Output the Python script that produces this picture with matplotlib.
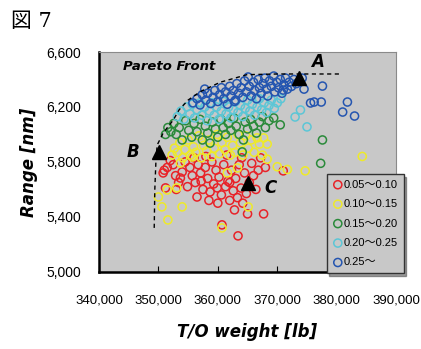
"""Pareto front scatter: T/O weight vs range, coloured by class."""
import matplotlib
matplotlib.use("Agg")
import matplotlib.pyplot as plt
import numpy as np
from matplotlib.ticker import StrMethodFormatter

# T/O weight in thousands of lb, range in nm
red_x = [350.8, 351.0, 351.2, 351.5, 352.5, 352.9, 353.4, 353.7, 354.0, 354.5, 354.9, 355.3,
         355.7, 356.2, 356.5, 356.7, 357.1, 357.5, 357.9, 358.3, 358.7, 359.0, 359.3, 359.7,
         359.9, 360.2, 360.6, 361.0, 361.3, 361.7, 362.0, 362.3, 362.6, 362.8, 363.0, 363.3,
         363.6, 363.9, 364.2, 364.5, 364.8, 365.0, 365.3, 365.7, 366.0, 366.4, 366.8, 367.2,
         367.7, 368.0, 360.7, 363.4, 371.0, 358.0, 356.0, 353.0, 352.0, 364.0, 361.5, 360.0,
         362.0, 358.5, 357.2]
red_y = [5720, 5740, 5611, 5760, 5780, 5700, 5650, 5683, 5727, 5800, 5620, 5760,
         5700, 5650, 5545, 5780, 5720, 5600, 5760, 5680, 5582, 5800, 5640, 5740,
         5611, 5690, 5560, 5780, 5620, 5660, 5520, 5740, 5590, 5451, 5680, 5540,
         5780, 5610, 5500, 5720, 5570, 5422, 5650, 5790, 5700, 5600, 5740, 5830,
         5422, 5760, 5342, 5262, 5735, 5840, 5830, 5600, 5810, 5830, 5850, 5500,
         5650, 5520, 5660]

yellow_x = [352.3, 352.7, 353.2, 353.6, 354.1, 354.5, 355.0, 355.4, 355.9, 356.3, 356.8, 357.2,
            357.6, 358.1, 358.5, 359.0, 359.4, 359.9, 360.3, 360.7, 361.2, 361.6, 362.1, 362.5,
            362.9, 363.4, 363.8, 364.2, 364.7, 365.1, 365.6, 366.1, 366.6, 367.0, 367.7, 368.3,
            350.0, 350.6, 351.5, 351.6, 353.1, 354.0, 360.7, 365.1, 361.6, 363.3, 353.7, 355.7,
            370.0, 371.7, 374.7, 384.3, 368.3, 367.5]
yellow_y = [5850, 5900, 5870, 5940, 5830, 5890, 5960, 5850, 5910, 5870, 5990, 5830,
            5920, 5880, 5960, 5840, 5900, 6000, 5860, 5940, 5890, 5980, 5850, 5920,
            5870, 6000, 5940, 5850, 5990, 5900, 5960, 5870, 5975, 5930, 5975, 5930,
            5545, 5473, 5596, 5378, 5611, 5473, 5320, 5473, 5720, 5756, 5793, 5836,
            5765, 5745, 5735, 5840, 5820, 5850]

green_x = [351.2, 351.6, 352.1, 352.6, 353.0, 353.5, 354.0, 354.6, 355.1, 355.6, 356.0, 356.5,
           357.0, 357.4, 357.9, 358.3, 358.7, 359.1, 359.6, 360.0, 360.5, 360.9, 361.3, 361.8,
           362.2, 362.7, 363.1, 363.6, 364.1, 364.3, 364.6, 365.0, 365.5, 366.0, 366.5, 367.0,
           367.5, 368.0, 368.6, 369.4, 370.5, 377.6, 377.3]
green_y = [6000, 6050, 6020, 6080, 6000, 6050, 5960, 6100, 6030, 5980, 6080, 6020,
           6110, 5960, 6060, 6010, 5937, 6090, 6040, 5980, 6110, 6050, 6000, 6080,
           6030, 6120, 6060, 6000, 5873, 5960, 6090, 6040, 6110, 6060, 6010, 6090,
           6130, 6050, 6100, 6120, 6070, 5960, 5790]

cyan_x = [353.2, 353.8, 354.3, 354.8, 355.3, 355.7, 356.1, 356.5, 357.0, 357.3, 357.8, 358.2,
          358.6, 359.0, 359.4, 359.8, 360.2, 360.6, 361.0, 361.4, 361.8, 362.2, 362.6, 363.0,
          363.4, 363.8, 364.2, 364.6, 365.0, 365.4, 365.8, 366.2, 366.6, 367.0, 367.4, 367.8,
          368.2, 368.6, 369.0, 369.5, 370.0, 370.6, 373.0, 373.9, 375.0]
cyan_y = [6130, 6170, 6110, 6200, 6150, 6220, 6120, 6180, 6230, 6140, 6200, 6100,
          6170, 6230, 6140, 6200, 6110, 6170, 6240, 6150, 6200, 6120, 6180, 6240,
          6160, 6210, 6130, 6190, 6250, 6170, 6220, 6140, 6200, 6260, 6180, 6230,
          6160, 6210, 6250, 6190, 6230, 6260, 6127, 6178, 6055]

blue_x = [355.8, 356.5, 357.0, 357.4, 358.0, 358.3, 358.8, 359.2, 359.5, 360.0, 360.3, 360.6,
          361.0, 361.3, 361.6, 362.0, 362.2, 362.6, 363.0, 363.2, 363.5, 363.9, 364.2, 364.5,
          364.8, 365.1, 365.3, 365.6, 366.0, 366.2, 366.5, 366.8, 367.0, 367.3, 367.6, 367.9,
          368.2, 368.4, 368.7, 369.0, 369.4, 369.6, 369.9, 370.2, 370.5, 370.8, 371.1, 371.4,
          371.7, 372.0, 372.4, 372.8, 373.2, 374.2, 374.5, 375.6, 376.2, 377.4, 377.6, 381.0,
          381.8, 383.0, 371.0, 357.8, 362.8]
blue_y = [6230, 6260, 6215, 6290, 6250, 6300, 6225, 6270, 6320, 6240, 6290, 6340,
          6260, 6310, 6220, 6350, 6280, 6320, 6250, 6370, 6300, 6340, 6270, 6390,
          6310, 6418, 6350, 6280, 6380, 6320, 6260, 6400, 6340, 6300, 6370, 6410,
          6330, 6280, 6390, 6350, 6425, 6310, 6380, 6340, 6400, 6300, 6360, 6410,
          6330, 6380, 6350, 6400, 6370, 6410, 6330, 6229, 6236, 6236, 6352, 6163,
          6236, 6134, 6323, 6330, 6240]

front_x = [349.3, 349.4, 349.6, 349.8, 350.8, 352.5, 353.5, 355.0, 357.0, 360.4, 364.9, 370.0, 380.6]
front_y = [5320, 5600, 5820, 5923, 6010, 6105, 6180, 6250, 6310, 6380, 6435, 6440, 6440]

point_names = ["A", "B", "C"]
point_x = [373.7, 350.1, 365.0]
point_y = [6410, 5873, 5647]

labels = ["0.05～0.10", "0.10～0.15", "0.15～0.20", "0.20～0.25", "0.25～"]
colors = ["#e82228", "#eeea2a", "#2a8a3a", "#5cc6d6", "#2455b0"]
xticks = [340000, 350000, 360000, 370000, 380000, 390000]
yticks = [5000, 5400, 5800, 6200, 6600]

narrow = ["Liberation Sans Narrow", "Liberation Sans", "Noto Sans CJK JP"]

fig = plt.figure(figsize=(4.21, 3.49), dpi=100)
ax = fig.add_axes([0.235, 0.221, 0.706, 0.630])
ax.set_facecolor("#c8c8c8")

series = [(red_x, red_y), (yellow_x, yellow_y), (green_x, green_y),
          (cyan_x, cyan_y), (blue_x, blue_y)]
for (xs, ys), c, lab in zip(series, colors, labels):
    ax.scatter(np.array(xs) * 1000, ys, s=34, facecolors="none",
               edgecolors=c, linewidths=1.1, label=lab, zorder=3)

ax.plot(np.array(front_x) * 1000, front_y, color="black", lw=1.0,
        dashes=(3, 2.5), zorder=4)
ax.plot(np.array(point_x) * 1000, point_y, "^", color="black", ms=10, zorder=5)

label_off = {"A": (3000, 120), "B": (-4400, 0), "C": (3800, -40)}
for n, x, y in zip(point_names, point_x, point_y):
    dx, dy = label_off[n]
    ax.text(x * 1000 + dx, y + dy, n, fontsize=12, fontweight="bold",
            fontstyle="italic", ha="center", va="center", zorder=6)

ax.text(344000, 6495, "Pareto Front", fontsize=9.5, fontweight="bold",
        fontstyle="italic", ha="left", va="center")

ax.set_xlim(340000, 390000)
ax.set_ylim(5000, 6600)
ax.set_xticks(xticks)
ax.set_yticks(yticks)
ax.xaxis.set_major_formatter(StrMethodFormatter("{x:,.0f}"))
ax.yaxis.set_major_formatter(StrMethodFormatter("{x:,.0f}"))
ax.tick_params(axis="x", direction="in", length=4, pad=16, labelsize=9.5)
ax.tick_params(axis="y", direction="in", length=0, pad=13, labelsize=10)
for lbl in ax.get_xticklabels() + ax.get_yticklabels():
    lbl.set_family(narrow)

for side in ("left", "bottom"):
    ax.spines[side].set_linewidth(1.8)
    ax.spines[side].set_color("black")
for side in ("top", "right"):
    ax.spines[side].set_linewidth(0.8)
    ax.spines[side].set_color("#8a8a8a")

ax.set_xlabel("T/O weight [lb]", fontsize=12, fontweight="bold",
              fontstyle="italic", labelpad=12)
ax.set_ylabel("Range [nm]", fontsize=12, fontweight="bold",
              fontstyle="italic", labelpad=6)

leg = ax.legend(loc="lower right", bbox_to_anchor=(1.025, -0.005),
                prop={"family": narrow, "size": 8}, frameon=True,
                fancybox=False, shadow=True, borderaxespad=0,
                handletextpad=0.05, handlelength=1.0, labelspacing=0.85,
                borderpad=0.5)
leg.get_frame().set_facecolor("#c8c8c8")
leg.get_frame().set_edgecolor("#333333")
leg.get_frame().set_alpha(1)

fig.text(0.025, 0.965, "図 7", fontsize=15, va="top", ha="left",
         family=["DejaVu Serif", "Noto Sans CJK JP"])

fig.savefig("out.png", dpi=100)
